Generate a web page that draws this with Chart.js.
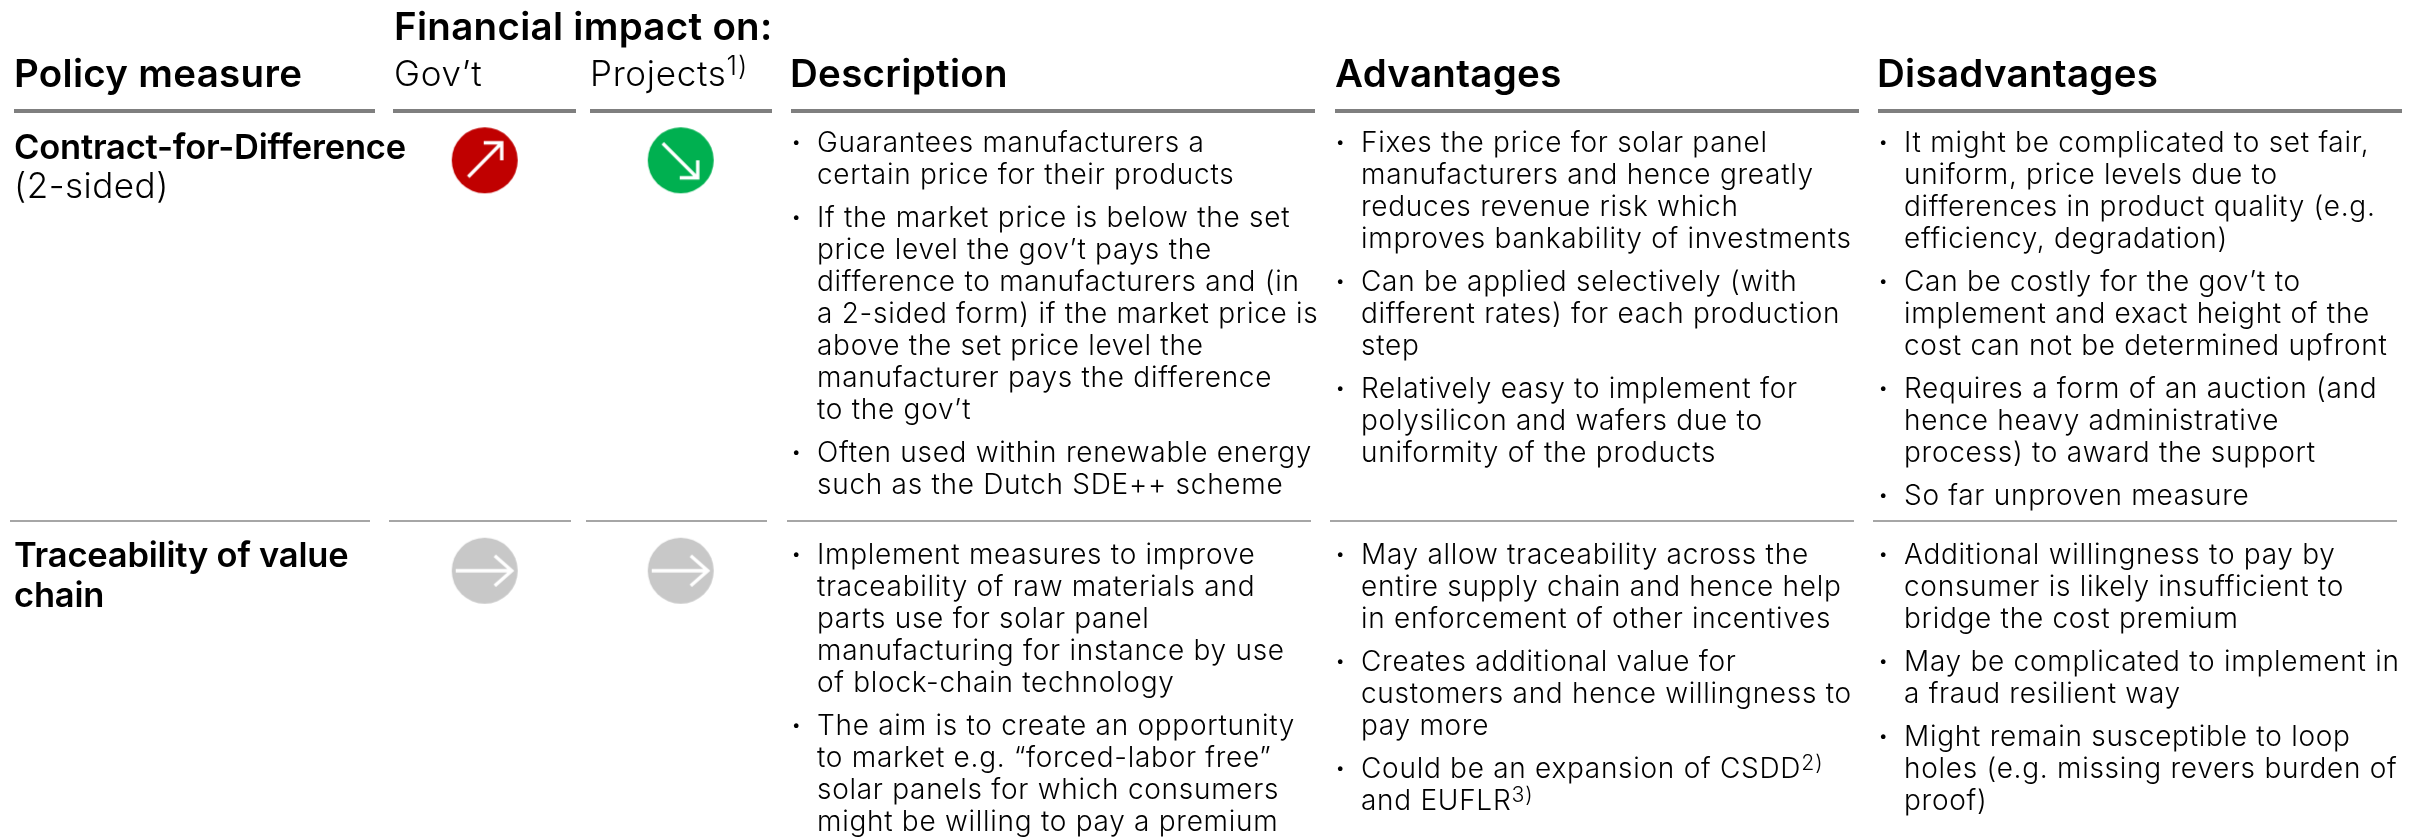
<!DOCTYPE html>
<html><head><meta charset="utf-8">
<script src="https://cdn.jsdelivr.net/npm/chart.js@4"></script>
<style>
html,body{margin:0;padding:0;background:#fff;width:2425px;height:838px;overflow:hidden}
#wrap{position:relative;width:2425px;height:838px;font-family:Inter,sans-serif;color:#000}
canvas{position:absolute;left:0;top:0}
.t{position:absolute;white-space:nowrap;line-height:32px}
.body{font-size:28px;font-weight:300;letter-spacing:0.72px}
.bul{font-size:15px;font-weight:400}
.h{font-size:38.5px;font-weight:600;letter-spacing:0.3px;line-height:40px}
.hl{font-size:35px;font-weight:300;letter-spacing:0.7px;line-height:40px}
.rb{font-size:34.5px;font-weight:600;letter-spacing:-0.2px;line-height:40px}
.rl{font-size:35px;font-weight:300;letter-spacing:0.5px;line-height:40px}
.r{position:absolute}
sup{font-size:76%;line-height:0;vertical-align:baseline;position:relative;top:-0.4em;letter-spacing:1px}
</style></head><body>
<div id="wrap"><canvas id="c" width="2425" height="838"></canvas></div>
<script>
const impactColumns = ["Gov\u2019t", "Projects"];
const policies = ["Contract-for-Difference (2-sided)", "Traceability of value chain"];
const govImpact = ["up", "flat"];
const projectImpact = ["down", "flat"];
const impactColors = {up:"#c00000", down:"#00b050", flat:"#c8c8c8"};

const descriptionRows = [
 [["Guarantees manufacturers a","certain price for their products"],
  ["If the market price is below the set","price level the gov\u2019t pays the","difference to manufacturers and (in","a 2-sided form) if the market price is","above the set price level the","manufacturer pays the difference","to the gov\u2019t"],
  ["Often used within renewable energy","such as the Dutch SDE++ scheme"]],
 [["Implement measures to improve","traceability of raw materials and","parts use for solar panel","manufacturing for instance by use","of block-chain technology"],
  ["The aim is to create an opportunity","to market e.g. \u201cforced-labor free\u201d","solar panels for which consumers","might be willing to pay a premium"]]
];
const advantageRows = [
 [["Fixes the price for solar panel","manufacturers and hence greatly","reduces revenue risk which","improves bankability of investments"],
  ["Can be applied selectively (with","different rates) for each production","step"],
  ["Relatively easy to implement for","polysilicon and wafers due to","uniformity of the products"]],
 [["May allow traceability across the","entire supply chain and hence help","in enforcement of other incentives"],
  ["Creates additional value for","customers and hence willingness to","pay more"],
  ["Could be an expansion of CSDD<sup>2)</sup>","and EUFLR<sup>3)</sup>"]]
];
const disadvantageRows = [
 [["It might be complicated to set fair,","uniform, price levels due to","differences in product quality (e.g.","efficiency, degradation)"],
  ["Can be costly for the gov\u2019t to","implement and exact height of the","cost can not be determined upfront"],
  ["Requires a form of an auction (and","hence heavy administrative","process) to award the support"],
  ["So far unproven measure"]],
 [["Additional willingness to pay by","consumer is likely insufficient to","bridge the cost premium"],
  ["May be complicated to implement in","a fraud resilient way"],
  ["Might remain susceptible to loop","holes (e.g. missing revers burden of","proof)"]]
];

const wrap = document.getElementById('wrap');
function put(cls, x, y, html){
  const d = document.createElement('div');
  d.className = 't ' + cls; d.style.left = x + 'px'; d.style.top = y + 'px'; d.innerHTML = html;
  wrap.appendChild(d);
}
function rule(x0, x1, y, h, color){
  const d = document.createElement('div'); d.className = 'r';
  d.style.cssText += `left:${x0}px;top:${y}px;width:${x1-x0}px;height:${h}px;background:${color}`;
  wrap.appendChild(d);
}
[[14,375],[393,576],[590,772],[791,1315],[1334.5,1858.5],[1877.5,2402]].forEach(c => rule(c[0],c[1],109,4,'#7f7f7f'));
[[10,370],[389,571],[586,767],[786.5,1311],[1329.5,1853.5],[1872.5,2397]].forEach(c => rule(c[0],c[1],520,2,'#a6a6a6'));

put('h',394,6,'Financial impact on:');
put('h',14,53,'Policy measure');
put('hl',394,53,impactColumns[0]);
put('hl',590,53,impactColumns[1]+'<sup>1)</sup>');
put('h',790,53,'Description');
put('h',1335,53,'Advantages');
put('h',1877,53,'Disadvantages');
put('rb',14,127,'Contract-for-Difference');
put('rl',14,165,'(2-sided)');
put('rb',14,535,'Traceability of value');
put('rb',14,575,'chain');

const rowTop = [126, 538];
function column(rows, bx, tx){
  rows.forEach((bullets,r) => {
    let y = rowTop[r];
    bullets.forEach(lines => {
      put('bul',bx,y,'\u2022');
      lines.forEach(l => { put('body',tx,y,l); y += 32; });
      y += 11;
    });
  });
}
column(descriptionRows,792,817);
column(advantageRows,1336,1361);
column(disadvantageRows,1879,1904);

function arrowIcon(kind){
  const R = 33, c = document.createElement('canvas');
  c.width = c.height = 2*R + 4;
  const g = c.getContext('2d'), m = R + 2;
  g.strokeStyle = '#fff'; g.lineWidth = 3.4; g.lineCap = 'butt'; g.lineJoin = 'miter';
  g.beginPath();
  if (kind === 'up'){
    g.moveTo(m-16.5,m+16.5); g.lineTo(m+16,m-16.5);
    g.moveTo(m-1,m-17.5); g.lineTo(m+17,m-17.5); g.lineTo(m+17,m);
  } else if (kind === 'down'){
    g.moveTo(m-18,m-17); g.lineTo(m+16,m+17);
    g.moveTo(m-1,m+17.5); g.lineTo(m+17,m+17.5); g.lineTo(m+17,m);
  } else {
    g.moveTo(m-29,m); g.lineTo(m+27,m);
    g.moveTo(m+10,m-15); g.lineTo(m+27,m); g.lineTo(m+10,m+15);
  }
  g.stroke();
  const o = document.createElement('canvas');
  o.width = o.height = c.width;
  const q = o.getContext('2d');
  q.fillStyle = impactColors[kind];
  q.beginPath(); q.arc(m,m,R,0,Math.PI*2); q.fill();
  q.drawImage(c,0,0);
  return o;
}
const icons = {up:arrowIcon('up'), down:arrowIcon('down'), flat:arrowIcon('flat')};
function series(col, values){
  return {
    label: impactColumns[col],
    data: values.map((v,i) => ({x:impactColumns[col], y:policies[i]})),
    pointStyle: values.map(v => icons[v]),
    backgroundColor: values.map(v => impactColors[v]),
    pointRadius: 33, pointHoverRadius: 33, clip: false, showLine: false
  };
}
new Chart(document.getElementById('c'), {
  type: 'scatter',
  data: {datasets: [series(0,govImpact), series(1,projectImpact)]},
  options: {
    responsive: false, animation: false,
    layout: {padding: {left: 484.7, right: 2425-680.7, top: 160.3, bottom: 838-570.7}},
    plugins: {legend: {display:false}, tooltip: {enabled:false}},
    scales: {
      x: {type:'category', labels: impactColumns, display:false, offset:false},
      y: {type:'category', labels: policies, display:false, offset:false}
    }
  }
});
</script></body></html>
